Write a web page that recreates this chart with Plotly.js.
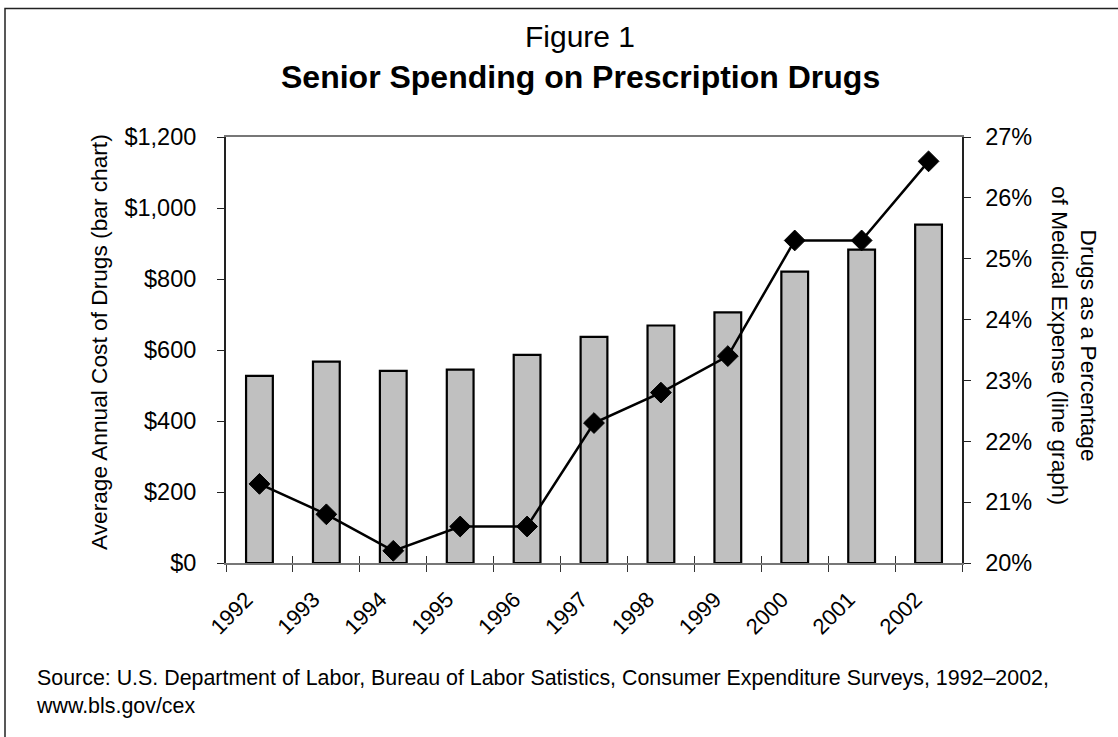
<!DOCTYPE html>
<html>
<head>
<meta charset="utf-8">
<script src="https://cdn.plot.ly/plotly-3.0.1.min.js"></script>
<style>
html,body{margin:0;padding:0;background:#fff;}
#chart{width:1118px;height:737px;}
</style>
</head>
<body>
<div id="chart"></div>
<script>
const years = ['1992','1993','1994','1995','1996','1997','1998','1999','2000','2001','2002'];
const costDollars = [527, 567, 541, 545, 586, 637, 669, 706, 821, 883, 953];
const drugSharePct = [21.3, 20.8, 20.2, 20.6, 20.6, 22.3, 22.8, 23.4, 25.3, 25.3, 26.6];
const costTickVals = [0, 200, 400, 600, 800, 1000, 1200];
const costTickText = ['$0', '$200', '$400', '$600', '$800', '$1,000', '$1,200'];
const pctTickVals = [20, 21, 22, 23, 24, 25, 26, 27];
const pctTickText = ['20%', '21%', '22%', '23%', '24%', '25%', '26%', '27%'];
const titleTop = 'Figure 1';
const titleMain = 'Senior Spending on Prescription Drugs';
const leftTitle = 'Average Annual Cost of Drugs (bar chart)';
const rightTitle = 'Drugs as a Percentage<br>of Medical Expense (line graph)';
const sourceText = 'Source: U.S. Department of Labor, Bureau of Labor Satistics, Consumer Expenditure Surveys, 1992\u20132002,<br>www.bls.gov/cex';

const FONT = 'Liberation Sans, Arial, sans-serif';

const W = 1118, H = 737;
const L = 226, R = 962, T = 137, B = 563;
const px2x = p => (p - L) / (R - L);
const px2y = p => (B - p) / (B - T);

const traces = [
  {
    type: 'bar', x: years, y: costDollars, xaxis: 'x', yaxis: 'y',
    width: 0.4,
    marker: {color: '#c0c0c0', line: {color: '#000', width: 2.2}},
    hoverinfo: 'skip'
  },
  {
    type: 'scatter', mode: 'lines+markers', x: years, y: drugSharePct,
    xaxis: 'x2', yaxis: 'y2', cliponaxis: false,
    line: {color: '#000', width: 2.5},
    marker: {symbol: 'diamond', size: 16, color: '#000', line: {color: '#000', width: 1}},
    hoverinfo: 'skip'
  }
];

const layout = {
  width: W, height: H, autosize: false,
  margin: {l: L, r: W - R, t: T, b: H - B, pad: 0},
  paper_bgcolor: '#fff', plot_bgcolor: '#fff',
  font: {family: FONT, color: '#000'},
  showlegend: false, hovermode: false,
  xaxis: {
    type: 'category', range: [-0.5, 10.5], anchor: 'y',
    ticks: 'outside', ticklen: 7, tickwidth: 1, tickcolor: '#333',
    tickson: 'boundaries', tickangle: -45,
    tickmode: 'array', tickvals: years,
    ticktext: years.map(s => s + '\u00a0\u00a0\u00a0'),
    ticklabelstandoff: 0,
    tickfont: {size: 22, family: FONT, color: '#000'},
    showline: true, linecolor: '#777', linewidth: 2, mirror: true,
    showgrid: false, zeroline: false
  },
  xaxis2: {
    type: 'category', range: [-0.5, 10.5], overlaying: 'x', anchor: 'y2',
    ticks: 'inside', ticklen: 7, tickwidth: 1, tickcolor: '#333',
    tickson: 'boundaries', showticklabels: false,
    showline: false, showgrid: false, zeroline: false
  },
  yaxis: {
    range: [0, 1200], tickvals: costTickVals, ticktext: costTickText,
    ticks: 'outside', ticklen: 7, tickwidth: 1, tickcolor: '#222',
    ticklabelstandoff: 16,
    tickfont: {size: 23.5, family: FONT, color: '#000'},
    showline: true, linecolor: '#222', linewidth: 2,
    showgrid: false, zeroline: false
  },
  yaxis2: {
    range: [20, 27], overlaying: 'y', side: 'right', anchor: 'x2',
    tickvals: pctTickVals, ticktext: pctTickText,
    ticks: 'outside', ticklen: 7, tickwidth: 1, tickcolor: '#222',
    ticklabelstandoff: 10,
    tickfont: {size: 23.5, family: FONT, color: '#000'},
    showline: true, linecolor: '#222', linewidth: 1.5,
    showgrid: false, zeroline: false
  },
  yaxis3: {
    range: [0, 1200], overlaying: 'y', side: 'left', anchor: 'x',
    tickvals: costTickVals, ticks: 'inside', ticklen: 7, tickwidth: 1, tickcolor: '#222',
    showticklabels: false, showline: false, showgrid: false, zeroline: false
  },
  yaxis4: {
    range: [20, 27], overlaying: 'y', side: 'right', anchor: 'x',
    tickvals: pctTickVals, ticks: 'inside', ticklen: 7, tickwidth: 1, tickcolor: '#222',
    showticklabels: false, showline: false, showgrid: false, zeroline: false
  },
  annotations: [
    {text: titleTop, xref: 'paper', yref: 'paper', x: px2x(580), y: px2y(36.5),
     xanchor: 'center', yanchor: 'middle', showarrow: false,
     font: {size: 30, family: FONT, color: '#000'}},
    {text: '<b>' + titleMain + '</b>', xref: 'paper', yref: 'paper', x: px2x(580), y: px2y(77),
     xanchor: 'center', yanchor: 'middle', showarrow: false,
     font: {size: 32, family: FONT, color: '#000'}},
    {text: leftTitle, xref: 'paper', yref: 'paper', x: px2x(99), y: px2y(342),
     xanchor: 'center', yanchor: 'middle', textangle: -90, showarrow: false,
     font: {size: 22.7, family: FONT, color: '#000'}},
    {text: rightTitle, xref: 'paper', yref: 'paper', x: px2x(1074), y: px2y(345),
     xanchor: 'center', yanchor: 'middle', textangle: 90, showarrow: false,
     font: {size: 22.7, family: FONT, color: '#000'}},
    {text: sourceText, xref: 'paper', yref: 'paper', x: px2x(34), y: px2y(664),
     xanchor: 'left', yanchor: 'top', align: 'left', showarrow: false,
     font: {size: 21.4, family: FONT, color: '#000'}}
  ],
  shapes: [
    {type: 'rect', xref: 'paper', yref: 'paper',
     x0: px2x(5), x1: px2x(1250), y0: px2y(820), y1: px2y(8.5),
     line: {color: '#222', width: 1.5}, fillcolor: 'rgba(0,0,0,0)', layer: 'above'}
  ]
};

Plotly.newPlot('chart', traces, layout, {displayModeBar: false, staticPlot: true});
</script>
</body>
</html>
